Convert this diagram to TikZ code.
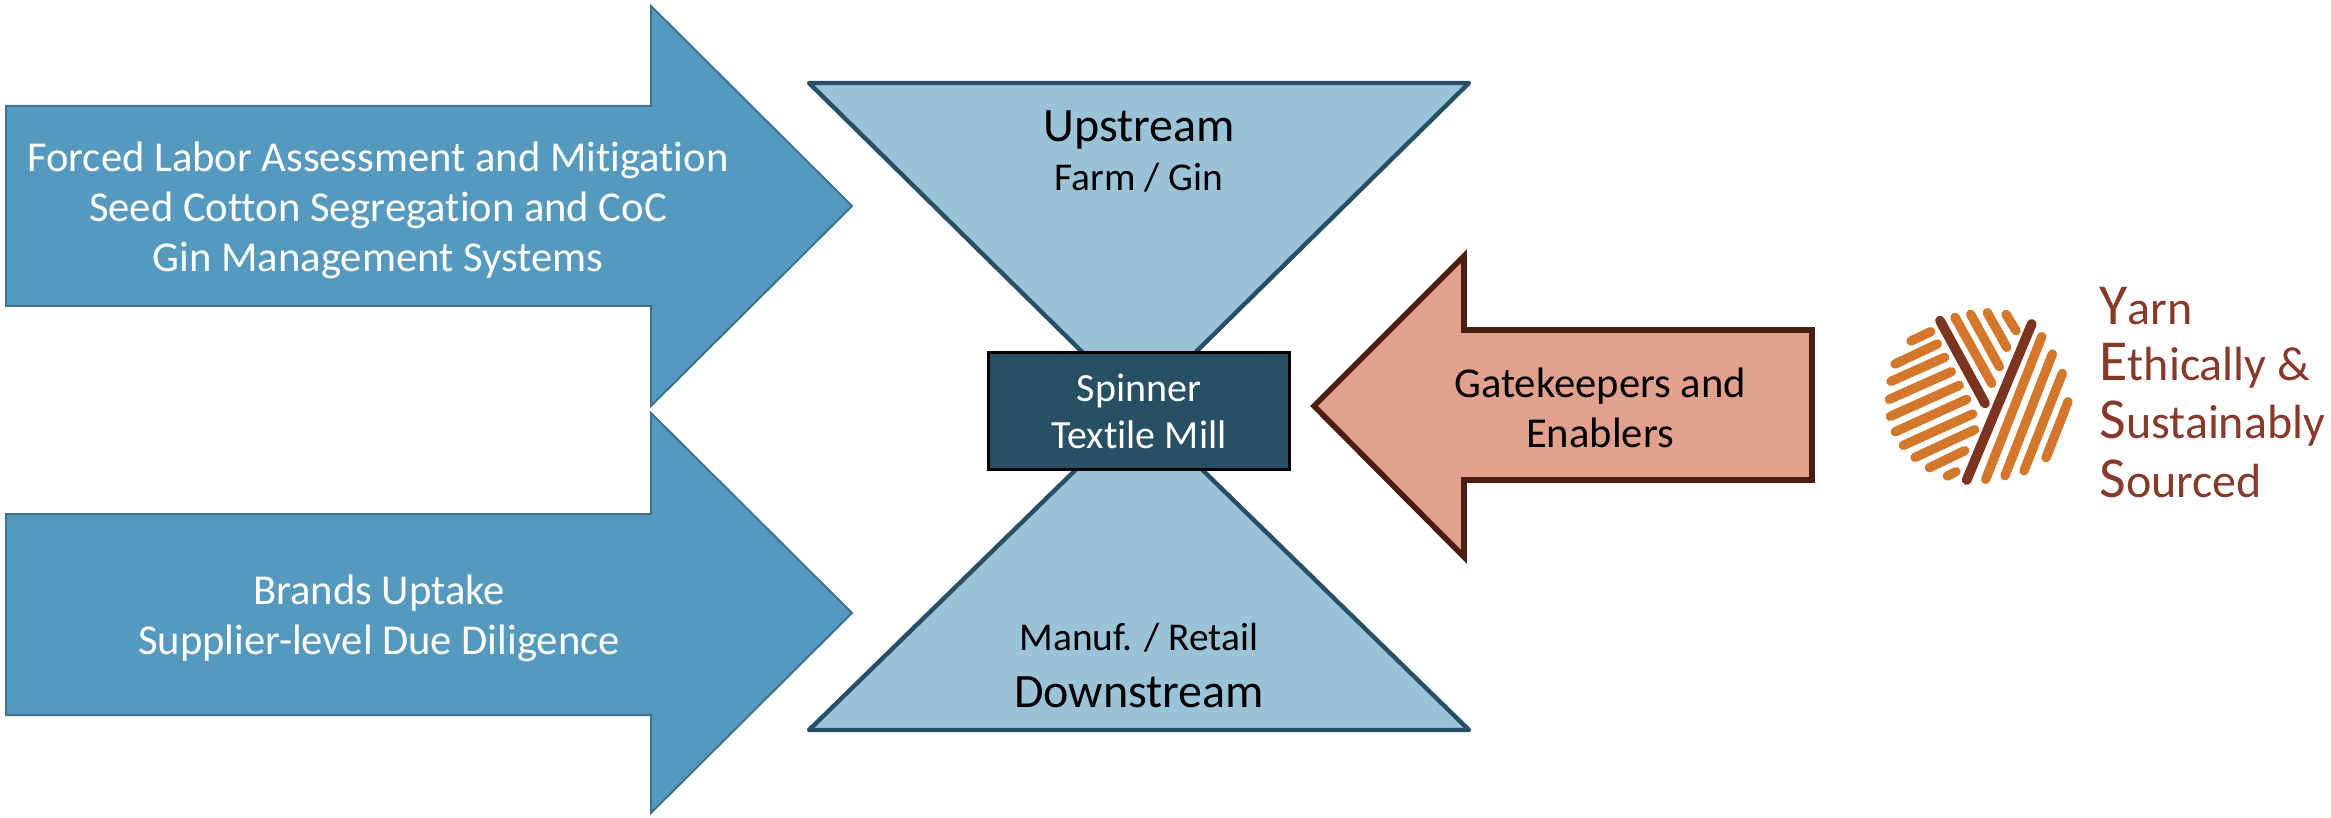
\documentclass[tikz,border=0pt]{standalone}
\usepackage{fontspec}
\setmainfont[Ligatures=NoCommon]{Carlito}
\tikzset{
  px/.style={x=0.5pt,y=-0.5pt},
  bluearrow/.style={fill=arrowblue,draw=arrowedge,line width=1pt,miter limit=20},
  funnel/.style={fill=funnelblue,draw=funneledge,line width=2.2pt,line join=round},
  redarrow/.style={fill=salmon,draw=salmonedge,line width=2.8pt,miter limit=20},
  whitetext/.style={text=white,align=center,inner sep=0pt,font=\fontsize{21.3}{25}\selectfont},
  blacktext/.style={text=black,align=center,inner sep=0pt},
  strand/.style={draw=strandorange,line width=4.7pt,line cap=round},
  darkstrand/.style={draw=stranddark,line width=4.9pt,line cap=round},
  logotext/.style={text=logored,anchor=base west,inner sep=0pt,font=\fontsize{24}{24}\selectfont},
}
\definecolor{arrowblue}{HTML}{5599BE}
\definecolor{arrowedge}{HTML}{3F7291}
\definecolor{funnelblue}{HTML}{9BC3D8}
\definecolor{funneledge}{HTML}{275066}
\definecolor{millfill}{HTML}{285064}
\definecolor{salmon}{HTML}{E2A18D}
\definecolor{salmonedge}{HTML}{4A1F12}
\definecolor{strandorange}{HTML}{D2772B}
\definecolor{stranddark}{HTML}{7B3420}
\definecolor{logored}{HTML}{87392A}
\newcommand{\logoinit}[1]{{\fontsize{29}{29}\selectfont #1}}
\begin{document}
\begin{tikzpicture}[px]
\useasboundingbox (0,0) rectangle (2331,818);
% blue arrows
\draw[bluearrow] (6,106) -- (651,106) -- (651,6) -- (852,206) -- (651,406) -- (651,306) -- (6,306) -- cycle;
\draw[bluearrow] (6,514) -- (651,514) -- (651,413) -- (852,613) -- (651,813) -- (651,715) -- (6,715) -- cycle;
% funnels
\draw[funnel] (809,83) -- (1469,83) -- (1139,408) -- cycle;
\draw[funnel] (809,730) -- (1469,730) -- (1139,408) -- cycle;
% mill
\node[draw=black,fill=millfill,line width=1.3pt,minimum width=150.5pt,minimum height=58.5pt,inner sep=0pt,
  whitetext,font=\fontsize{20}{23.5}\selectfont] (mill) at (1139,411) {Spinner\\Textile Mill};
% red arrow
\draw[redarrow] (1812,330) -- (1464,330) -- (1464,256) -- (1314,406) -- (1464,557) -- (1464,480) -- (1812,480) -- cycle;
% texts
\node[whitetext] (t1) at (378,210) {Forced Labor Assessment and Mitigation\\Seed Cotton Segregation and CoC\\Gin Management Systems};
\node[whitetext] (t2) at (379,618) {Brands Uptake\\Supplier-level Due Diligence};
\node[whitetext,text=black] (t3) at (1600,408) {Gatekeepers and\\Enablers};
\node[blacktext,font=\fontsize{24}{26}\selectfont] (up) at (1139,130) {Upstream};
\node[blacktext,font=\fontsize{19.7}{20}\selectfont] (farm) at (1139,178) {Farm / Gin};
\node[blacktext,font=\fontsize{19.7}{20}\selectfont] (manuf) at (1139,638) {Manuf. / Retail};
\node[blacktext,font=\fontsize{24}{26}\selectfont] (down) at (1139,692) {Downstream};
% logo
\begin{scope}[shift={(1840,260)},x=0.1667pt,y=-0.1667pt]
\foreach \a/\b/\c/\d in {345/172/455/370,392/163/478/320,442/158/500/262,498/163/528/212,
  605/230/437/658,637/282/495/647,667/340/552/632,684/425/618/593,
  272/215/213/243,292/252/165/312,314/292/153/364,334/335/148/418,358/376/151/469,
  380/418/166/515,398/462/190/556,404/509/225/592,374/572/268/623,348/635/322/648}
  \draw[strand] (\a,\b) -- (\c,\d);
\draw[darkstrand] (300,182) -- (435,430);
\draw[darkstrand] (575,192) -- (380,660);
\end{scope}
\node[logotext] (l1) at (2099,325) {\logoinit{Y}arn};
\node[logotext] (l2) at (2099,380) {\logoinit{E}thically \&};
\node[logotext] (l3) at (2099,438) {\logoinit{S}ustainably};
\node[logotext] (l4) at (2099,497) {\logoinit{S}ourced};
\end{tikzpicture}
\end{document}
